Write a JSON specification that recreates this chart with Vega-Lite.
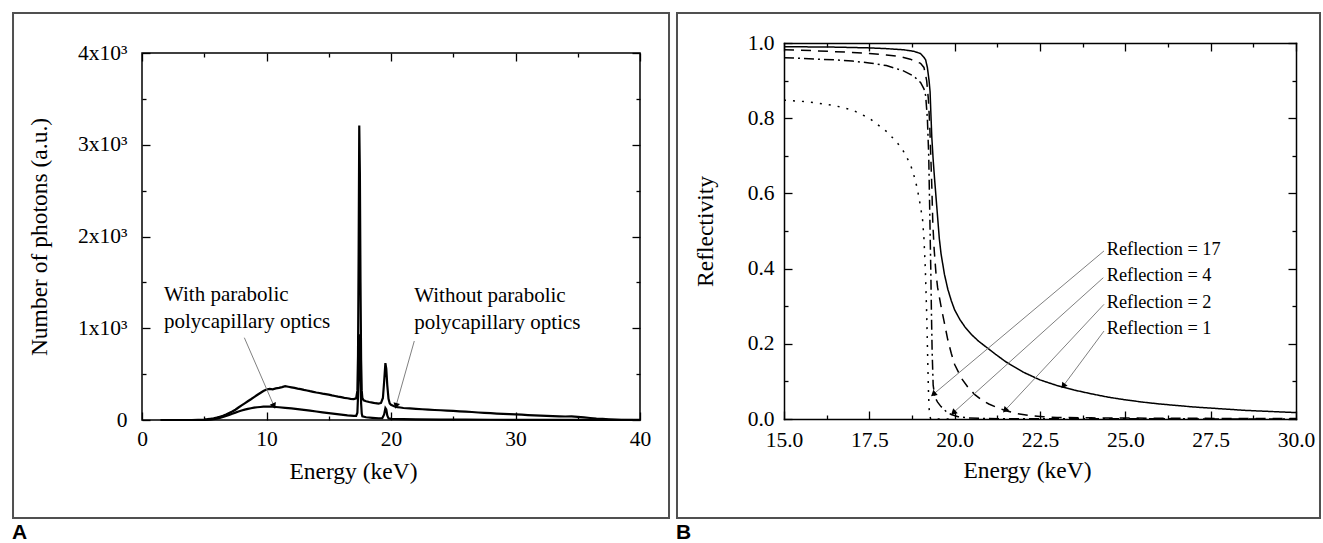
{
  "$schema": "https://vega.github.io/schema/vega-lite/v6.json",
  "padding": {"left": 11, "top": 11, "right": 2, "bottom": 0},
  "autosize": {"type": "pad"},
  "spacing": 4,
  "columns": 2,
  "align": "none",
  "bounds": "full",
  "datasets": {
    "spectra": [
      {"E":1.5,"N":0,"s":"Without"},{"E":3,"N":0,"s":"Without"},{"E":4,"N":0,"s":"Without"},{"E":4.5,"N":2,"s":"Without"},{"E":5,"N":5,"s":"Without"},{"E":5.25,"N":9,"s":"Without"},{"E":5.5,"N":14,"s":"Without"},{"E":5.75,"N":19,"s":"Without"},{"E":6,"N":26,"s":"Without"},{"E":6.25,"N":36,"s":"Without"},{"E":6.5,"N":46,"s":"Without"},{"E":6.75,"N":60,"s":"Without"},{"E":7,"N":76,"s":"Without"},{"E":7.25,"N":92,"s":"Without"},{"E":7.5,"N":112,"s":"Without"},{"E":7.75,"N":136,"s":"Without"},{"E":8,"N":160,"s":"Without"},{"E":8.25,"N":182,"s":"Without"},{"E":8.5,"N":204,"s":"Without"},{"E":8.75,"N":226,"s":"Without"},{"E":9,"N":250,"s":"Without"},{"E":9.25,"N":272,"s":"Without"},{"E":9.5,"N":294,"s":"Without"},{"E":9.75,"N":316,"s":"Without"},{"E":10,"N":332,"s":"Without"},{"E":10.25,"N":340,"s":"Without"},{"E":10.5,"N":334,"s":"Without"},{"E":10.75,"N":344,"s":"Without"},{"E":11,"N":350,"s":"Without"},{"E":11.25,"N":358,"s":"Without"},{"E":11.5,"N":368,"s":"Without"},{"E":11.75,"N":362,"s":"Without"},{"E":12,"N":356,"s":"Without"},{"E":12.25,"N":350,"s":"Without"},{"E":12.5,"N":342,"s":"Without"},{"E":12.75,"N":337,"s":"Without"},{"E":13,"N":328,"s":"Without"},{"E":13.25,"N":322,"s":"Without"},{"E":13.5,"N":314,"s":"Without"},{"E":13.75,"N":307,"s":"Without"},{"E":14,"N":300,"s":"Without"},{"E":14.25,"N":294,"s":"Without"},{"E":14.5,"N":287,"s":"Without"},{"E":14.75,"N":282,"s":"Without"},{"E":15,"N":276,"s":"Without"},{"E":15.25,"N":268,"s":"Without"},{"E":15.5,"N":262,"s":"Without"},{"E":15.75,"N":255,"s":"Without"},{"E":16,"N":249,"s":"Without"},{"E":16.25,"N":242,"s":"Without"},{"E":16.5,"N":237,"s":"Without"},{"E":16.75,"N":231,"s":"Without"},{"E":17,"N":228,"s":"Without"},{"E":17.2,"N":236,"s":"Without"},{"E":17.3,"N":320,"s":"Without"},{"E":17.35,"N":700,"s":"Without"},{"E":17.4,"N":1800,"s":"Without"},{"E":17.45,"N":3210,"s":"Without"},{"E":17.5,"N":2700,"s":"Without"},{"E":17.55,"N":1500,"s":"Without"},{"E":17.6,"N":650,"s":"Without"},{"E":17.65,"N":320,"s":"Without"},{"E":17.7,"N":240,"s":"Without"},{"E":17.8,"N":215,"s":"Without"},{"E":18,"N":205,"s":"Without"},{"E":18.25,"N":196,"s":"Without"},{"E":18.5,"N":190,"s":"Without"},{"E":18.75,"N":183,"s":"Without"},{"E":19,"N":178,"s":"Without"},{"E":19.2,"N":186,"s":"Without"},{"E":19.35,"N":240,"s":"Without"},{"E":19.45,"N":420,"s":"Without"},{"E":19.55,"N":620,"s":"Without"},{"E":19.62,"N":560,"s":"Without"},{"E":19.7,"N":380,"s":"Without"},{"E":19.8,"N":230,"s":"Without"},{"E":19.9,"N":180,"s":"Without"},{"E":20,"N":165,"s":"Without"},{"E":20.25,"N":150,"s":"Without"},{"E":20.5,"N":141,"s":"Without"},{"E":20.75,"N":136,"s":"Without"},{"E":21,"N":131,"s":"Without"},{"E":21.5,"N":126,"s":"Without"},{"E":22,"N":121,"s":"Without"},{"E":22.5,"N":117,"s":"Without"},{"E":23,"N":113,"s":"Without"},{"E":23.5,"N":109,"s":"Without"},{"E":24,"N":106,"s":"Without"},{"E":24.5,"N":102,"s":"Without"},{"E":25,"N":99,"s":"Without"},{"E":25.5,"N":95,"s":"Without"},{"E":26,"N":91,"s":"Without"},{"E":26.5,"N":87,"s":"Without"},{"E":27,"N":82,"s":"Without"},{"E":27.5,"N":78,"s":"Without"},{"E":28,"N":74,"s":"Without"},{"E":28.5,"N":70,"s":"Without"},{"E":29,"N":67,"s":"Without"},{"E":29.5,"N":64,"s":"Without"},{"E":30,"N":62,"s":"Without"},{"E":30.5,"N":58,"s":"Without"},{"E":31,"N":54,"s":"Without"},{"E":31.5,"N":51,"s":"Without"},{"E":32,"N":48,"s":"Without"},{"E":32.5,"N":45,"s":"Without"},{"E":33,"N":42,"s":"Without"},{"E":33.5,"N":40,"s":"Without"},{"E":34,"N":38,"s":"Without"},{"E":34.5,"N":40,"s":"Without"},{"E":35,"N":34,"s":"Without"},{"E":35.5,"N":28,"s":"Without"},{"E":36,"N":22,"s":"Without"},{"E":36.5,"N":16,"s":"Without"},{"E":37,"N":12,"s":"Without"},{"E":37.5,"N":8,"s":"Without"},{"E":38,"N":5,"s":"Without"},{"E":38.5,"N":3,"s":"Without"},{"E":39,"N":2,"s":"Without"},{"E":40,"N":1,"s":"Without"},
      {"E":1.5,"N":0,"s":"With"},{"E":4,"N":0,"s":"With"},{"E":5,"N":1,"s":"With"},{"E":5.5,"N":4,"s":"With"},{"E":6,"N":14,"s":"With"},{"E":6.25,"N":22,"s":"With"},{"E":6.5,"N":32,"s":"With"},{"E":6.75,"N":44,"s":"With"},{"E":7,"N":56,"s":"With"},{"E":7.25,"N":68,"s":"With"},{"E":7.5,"N":80,"s":"With"},{"E":7.75,"N":92,"s":"With"},{"E":8,"N":103,"s":"With"},{"E":8.25,"N":113,"s":"With"},{"E":8.5,"N":121,"s":"With"},{"E":8.75,"N":128,"s":"With"},{"E":9,"N":134,"s":"With"},{"E":9.25,"N":139,"s":"With"},{"E":9.5,"N":142,"s":"With"},{"E":9.75,"N":145,"s":"With"},{"E":10,"N":147,"s":"With"},{"E":10.25,"N":146,"s":"With"},{"E":10.5,"N":145,"s":"With"},{"E":10.75,"N":142,"s":"With"},{"E":11,"N":139,"s":"With"},{"E":11.5,"N":133,"s":"With"},{"E":12,"N":126,"s":"With"},{"E":12.5,"N":118,"s":"With"},{"E":13,"N":110,"s":"With"},{"E":13.5,"N":102,"s":"With"},{"E":14,"N":93,"s":"With"},{"E":14.5,"N":84,"s":"With"},{"E":15,"N":75,"s":"With"},{"E":15.5,"N":66,"s":"With"},{"E":16,"N":58,"s":"With"},{"E":16.5,"N":50,"s":"With"},{"E":17,"N":44,"s":"With"},{"E":17.2,"N":45,"s":"With"},{"E":17.3,"N":80,"s":"With"},{"E":17.35,"N":250,"s":"With"},{"E":17.4,"N":600,"s":"With"},{"E":17.45,"N":935,"s":"With"},{"E":17.5,"N":800,"s":"With"},{"E":17.55,"N":450,"s":"With"},{"E":17.6,"N":180,"s":"With"},{"E":17.65,"N":70,"s":"With"},{"E":17.7,"N":40,"s":"With"},{"E":18,"N":30,"s":"With"},{"E":18.5,"N":24,"s":"With"},{"E":19,"N":19,"s":"With"},{"E":19.3,"N":20,"s":"With"},{"E":19.45,"N":60,"s":"With"},{"E":19.55,"N":130,"s":"With"},{"E":19.62,"N":115,"s":"With"},{"E":19.7,"N":50,"s":"With"},{"E":19.8,"N":18,"s":"With"},{"E":20,"N":12,"s":"With"},{"E":21,"N":9,"s":"With"},{"E":22,"N":7,"s":"With"},{"E":24,"N":5,"s":"With"},{"E":26,"N":4,"s":"With"},{"E":28,"N":3,"s":"With"},{"E":30,"N":2,"s":"With"},{"E":35,"N":1,"s":"With"},{"E":40,"N":0,"s":"With"}
    ],
    "annA": [
      {"E":1.77,"N":1297,"t":"With parabolic"},
      {"E":1.77,"N":1003,"t":"polycapillary optics"},
      {"E":21.87,"N":1290,"t":"Without parabolic"},
      {"E":21.87,"N":996,"t":"polycapillary optics"}
    ],
    "arrA": [
      {"id":"with","E":8.22,"N":897,"E2":10.6,"N2":153},
      {"id":"without","E":21.87,"N":861,"E2":20.4,"N2":153}
    ],
    "refl": [
      {"E":15,"R":0.990,"n":"1"},{"E":15.5,"R":0.9898,"n":"1"},{"E":16,"R":0.9895,"n":"1"},{"E":16.5,"R":0.989,"n":"1"},{"E":17,"R":0.988,"n":"1"},{"E":17.5,"R":0.987,"n":"1"},{"E":18,"R":0.985,"n":"1"},{"E":18.5,"R":0.982,"n":"1"},{"E":18.8,"R":0.978,"n":"1"},{"E":19.0,"R":0.972,"n":"1"},{"E":19.1,"R":0.962,"n":"1"},{"E":19.15,"R":0.955,"n":"1"},{"E":19.2,"R":0.935,"n":"1"},{"E":19.25,"R":0.90,"n":"1"},{"E":19.28,"R":0.87,"n":"1"},{"E":19.3,"R":0.82,"n":"1"},{"E":19.33,"R":0.75,"n":"1"},{"E":19.37,"R":0.69,"n":"1"},{"E":19.41,"R":0.64,"n":"1"},{"E":19.48,"R":0.56,"n":"1"},{"E":19.55,"R":0.48,"n":"1"},{"E":19.6,"R":0.44,"n":"1"},{"E":19.7,"R":0.385,"n":"1"},{"E":19.8,"R":0.345,"n":"1"},{"E":19.9,"R":0.315,"n":"1"},{"E":20.0,"R":0.29,"n":"1"},{"E":20.15,"R":0.265,"n":"1"},{"E":20.3,"R":0.245,"n":"1"},{"E":20.5,"R":0.224,"n":"1"},{"E":20.7,"R":0.207,"n":"1"},{"E":20.9,"R":0.193,"n":"1"},{"E":21.2,"R":0.172,"n":"1"},{"E":21.5,"R":0.152,"n":"1"},{"E":21.8,"R":0.136,"n":"1"},{"E":22.0,"R":0.125,"n":"1"},{"E":22.5,"R":0.104,"n":"1"},{"E":23.0,"R":0.089,"n":"1"},{"E":23.5,"R":0.077,"n":"1"},{"E":24.0,"R":0.067,"n":"1"},{"E":24.5,"R":0.058,"n":"1"},{"E":25.0,"R":0.051,"n":"1"},{"E":25.5,"R":0.045,"n":"1"},{"E":26.0,"R":0.040,"n":"1"},{"E":26.5,"R":0.036,"n":"1"},{"E":27.0,"R":0.032,"n":"1"},{"E":27.5,"R":0.029,"n":"1"},{"E":28.0,"R":0.026,"n":"1"},{"E":28.5,"R":0.023,"n":"1"},{"E":29.0,"R":0.021,"n":"1"},{"E":29.5,"R":0.019,"n":"1"},{"E":30.0,"R":0.017,"n":"1"},
      {"E":15,"R":0.982,"n":"2"},{"E":15.5,"R":0.981,"n":"2"},{"E":16,"R":0.979,"n":"2"},{"E":16.5,"R":0.977,"n":"2"},{"E":17,"R":0.975,"n":"2"},{"E":17.5,"R":0.972,"n":"2"},{"E":18,"R":0.968,"n":"2"},{"E":18.4,"R":0.964,"n":"2"},{"E":18.7,"R":0.957,"n":"2"},{"E":19.0,"R":0.946,"n":"2"},{"E":19.1,"R":0.935,"n":"2"},{"E":19.18,"R":0.90,"n":"2"},{"E":19.23,"R":0.85,"n":"2"},{"E":19.27,"R":0.78,"n":"2"},{"E":19.3,"R":0.70,"n":"2"},{"E":19.33,"R":0.62,"n":"2"},{"E":19.36,"R":0.52,"n":"2"},{"E":19.4,"R":0.45,"n":"2"},{"E":19.45,"R":0.39,"n":"2"},{"E":19.5,"R":0.35,"n":"2"},{"E":19.6,"R":0.30,"n":"2"},{"E":19.7,"R":0.255,"n":"2"},{"E":19.8,"R":0.21,"n":"2"},{"E":19.9,"R":0.175,"n":"2"},{"E":20.0,"R":0.145,"n":"2"},{"E":20.2,"R":0.108,"n":"2"},{"E":20.4,"R":0.083,"n":"2"},{"E":20.6,"R":0.064,"n":"2"},{"E":20.8,"R":0.05,"n":"2"},{"E":21.0,"R":0.04,"n":"2"},{"E":21.2,"R":0.032,"n":"2"},{"E":21.5,"R":0.022,"n":"2"},{"E":21.8,"R":0.015,"n":"2"},{"E":22.2,"R":0.009,"n":"2"},{"E":22.6,"R":0.006,"n":"2"},{"E":23.0,"R":0.004,"n":"2"},{"E":24.0,"R":0.003,"n":"2"},{"E":26.0,"R":0.002,"n":"2"},{"E":30.0,"R":0.001,"n":"2"},
      {"E":15,"R":0.961,"n":"4"},{"E":15.5,"R":0.959,"n":"4"},{"E":16,"R":0.957,"n":"4"},{"E":16.5,"R":0.955,"n":"4"},{"E":17,"R":0.952,"n":"4"},{"E":17.5,"R":0.947,"n":"4"},{"E":18,"R":0.94,"n":"4"},{"E":18.5,"R":0.926,"n":"4"},{"E":18.8,"R":0.912,"n":"4"},{"E":19.0,"R":0.895,"n":"4"},{"E":19.1,"R":0.878,"n":"4"},{"E":19.15,"R":0.86,"n":"4"},{"E":19.2,"R":0.80,"n":"4"},{"E":19.24,"R":0.70,"n":"4"},{"E":19.27,"R":0.55,"n":"4"},{"E":19.3,"R":0.40,"n":"4"},{"E":19.32,"R":0.28,"n":"4"},{"E":19.34,"R":0.18,"n":"4"},{"E":19.37,"R":0.09,"n":"4"},{"E":19.42,"R":0.058,"n":"4"},{"E":19.5,"R":0.045,"n":"4"},{"E":19.6,"R":0.033,"n":"4"},{"E":19.75,"R":0.02,"n":"4"},{"E":19.9,"R":0.012,"n":"4"},{"E":20.1,"R":0.006,"n":"4"},{"E":20.4,"R":0.003,"n":"4"},{"E":21.0,"R":0.001,"n":"4"},{"E":30.0,"R":0.0,"n":"4"},
      {"E":15,"R":0.848,"n":"17"},{"E":15.5,"R":0.845,"n":"17"},{"E":16,"R":0.840,"n":"17"},{"E":16.5,"R":0.833,"n":"17"},{"E":17,"R":0.822,"n":"17"},{"E":17.5,"R":0.80,"n":"17"},{"E":18,"R":0.765,"n":"17"},{"E":18.3,"R":0.737,"n":"17"},{"E":18.5,"R":0.712,"n":"17"},{"E":18.7,"R":0.678,"n":"17"},{"E":18.8,"R":0.65,"n":"17"},{"E":18.9,"R":0.615,"n":"17"},{"E":19.0,"R":0.565,"n":"17"},{"E":19.06,"R":0.53,"n":"17"},{"E":19.1,"R":0.48,"n":"17"},{"E":19.14,"R":0.40,"n":"17"},{"E":19.18,"R":0.28,"n":"17"},{"E":19.21,"R":0.16,"n":"17"},{"E":19.23,"R":0.08,"n":"17"},{"E":19.25,"R":0.03,"n":"17"},{"E":19.27,"R":0.008,"n":"17"},{"E":19.3,"R":0.0,"n":"17"},{"E":20.0,"R":0.0,"n":"17"}
    ],
    "labB": [
      {"E":24.455,"R":0.4375,"t":"Reflection = 17"},
      {"E":24.455,"R":0.367,"t":"Reflection = 4"},
      {"E":24.455,"R":0.296,"t":"Reflection = 2"},
      {"E":24.455,"R":0.2253,"t":"Reflection = 1"}
    ],
    "arrB": [
      {"id":"r17","E":24.375,"R":0.447,"E2":19.374,"R2":0.0657},
      {"id":"r4","E":24.355,"R":0.3758,"E2":19.96,"R2":0.0168},
      {"id":"r2","E":24.375,"R":0.305,"E2":21.475,"R2":0.0231},
      {"id":"r1","E":24.375,"R":0.234,"E2":23.18,"R2":0.0878}
    ]
  },
  "concat": [
    {
      "width": 498,
      "height": 367,
      "title": {"text": "A"},
      "layer": [
        {
          "data": {"name": "spectra"},
          "mark": {"type": "line", "color": "black", "strokeWidth": 2.2},
          "encoding": {
            "x": {"field": "E", "type": "quantitative",
              "scale": {"domain": [0, 40], "nice": false, "zero": false},
              "axis": {"orient": "bottom", "values": [0,5,10,15,20,25,30,35,40],
                "labelExpr": "datum.value % 10 == 0 ? format(datum.value, 'd') : ''",
                "tickSize": {"condition": {"test": "datum.value % 10 == 0", "value": -8}, "value": -4},
                "labelPadding": 16, "title": "Energy (keV)", "titlePadding": 6, "titleX": 211}},
            "y": {"field": "N", "type": "quantitative",
              "scale": {"domain": [0, 4000], "nice": false, "zero": false},
              "axis": {"orient": "left", "values": [0,500,1000,1500,2000,2500,3000,3500,4000],
                "labelExpr": "datum.value == 0 ? '0' : (datum.value % 1000 == 0 ? format(datum.value/1000, 'd') + 'x10³' : '')",
                "tickSize": {"condition": {"test": "datum.value % 1000 == 0", "value": -8}, "value": -4},
                "labelPadding": 23, "title": "Number of photons (a.u.)", "titlePadding": 26}},
            "detail": {"field": "s", "type": "nominal"}
          }
        },
        {
          "data": {"values": [{}]},
          "mark": {"type": "rect", "filled": false, "color": "#505050", "strokeWidth": 2},
          "encoding": {
            "x": {"datum": -10.36, "type": "quantitative",
              "scale": {"domain": [0, 40], "nice": false, "zero": false},
              "axis": {"orient": "top", "values": [0,5,10,15,20,25,30,35,40], "labels": false, "title": null,
                "tickSize": {"condition": {"test": "datum.value % 10 == 0", "value": -8}, "value": -4}}},
            "x2": {"datum": 42.33},
            "y": {"datum": 4436, "type": "quantitative",
              "scale": {"domain": [0, 4000], "nice": false, "zero": false},
              "axis": {"orient": "right", "values": [0,500,1000,1500,2000,2500,3000,3500,4000], "labels": false, "title": null,
                "tickSize": {"condition": {"test": "datum.value % 1000 == 0", "value": -8}, "value": -4}}},
            "y2": {"datum": -1068}
          }
        },
        {
          "data": {"name": "arrA"},
          "mark": {"type": "rule", "color": "#808080", "strokeWidth": 1},
          "encoding": {
            "x": {"field": "E", "type": "quantitative", "axis": null},
            "y": {"field": "N", "type": "quantitative", "axis": null},
            "x2": {"field": "E2"},
            "y2": {"field": "N2"}
          }
        },
        {
          "data": {"name": "arrA"},
          "transform": [{"filter": "datum.id == 'with'"}],
          "mark": {"type": "point", "shape": "triangle-down", "filled": true, "color": "black", "opacity": 1, "size": 45, "angle": 336.5},
          "encoding": {
            "x": {"field": "E2", "type": "quantitative", "axis": null},
            "y": {"field": "N2", "type": "quantitative", "axis": null}
          }
        },
        {
          "data": {"name": "arrA"},
          "transform": [{"filter": "datum.id == 'without'"}],
          "mark": {"type": "point", "shape": "triangle-down", "filled": true, "color": "black", "opacity": 1, "size": 45, "angle": 15.7},
          "encoding": {
            "x": {"field": "E2", "type": "quantitative", "axis": null},
            "y": {"field": "N2", "type": "quantitative", "axis": null}
          }
        },
        {
          "data": {"name": "annA"},
          "mark": {"type": "text", "align": "left", "baseline": "alphabetic", "font": "Liberation Serif", "fontSize": 21, "color": "black"},
          "encoding": {
            "x": {"field": "E", "type": "quantitative", "axis": null},
            "y": {"field": "N", "type": "quantitative", "axis": null},
            "text": {"field": "t"}
          }
        }
      ],
      "resolve": {"axis": {"x": "independent", "y": "independent"}}
    },
    {
      "width": 512,
      "height": 366,
      "view": {"stroke": null},
      "title": {"text": "B"},
      "layer": [
        {
          "data": {"name": "refl"},
          "mark": {"type": "line", "color": "black", "strokeWidth": 1.5},
          "encoding": {
            "x": {"field": "E", "type": "quantitative",
              "scale": {"domain": [15, 30], "nice": false, "zero": false},
              "axis": {"orient": "bottom", "values": [15,16.25,17.5,18.75,20,21.25,22.5,23.75,25,26.25,27.5,28.75,30],
                "labelExpr": "(datum.value*4) % 10 == 0 ? format(datum.value, '.1f') : ''",
                "tickSize": {"condition": {"test": "(datum.value*4) % 10 == 0", "value": -8}, "value": -4},
                "domain": true, "domainColor": "black", "domainWidth": 1.5, "domainCap": "square",
                "labelPadding": 18, "title": "Energy (keV)", "titlePadding": 4, "titleX": 243}},
            "y": {"field": "R", "type": "quantitative",
              "scale": {"domain": [0, 1], "range": [366, -10], "nice": false, "zero": false},
              "axis": {"orient": "left", "values": [0,0.1,0.2,0.3,0.4,0.5,0.6,0.7,0.8,0.9,1.0],
                "labelExpr": "round(datum.value*10) % 2 == 0 ? format(datum.value, '.1f') : ''",
                "tickSize": {"condition": {"test": "round(datum.value*10) % 2 == 0", "value": -8}, "value": -4},
                "domain": true, "domainColor": "black", "domainWidth": 1.5, "domainCap": "square",
                "labelPadding": 18, "title": "Reflectivity", "titlePadding": 30}},
            "strokeDash": {"field": "n", "type": "nominal",
              "scale": {"domain": ["1","2","4","17"], "range": [[1,0],[10,7],[10,4,2,4],[2,7]]},
              "legend": null}
          }
        },
        {
          "data": {"values": [{}]},
          "mark": {"type": "rect", "filled": false, "color": "#505050", "strokeWidth": 2},
          "encoding": {
            "x": {"datum": 11.865, "type": "quantitative",
              "scale": {"domain": [15, 30], "nice": false, "zero": false},
              "axis": {"orient": "top", "offset": 10, "values": [15,16.25,17.5,18.75,20,21.25,22.5,23.75,25,26.25,27.5,28.75,30], "labels": false, "title": null,
                "domain": true, "domainColor": "black", "domainWidth": 1.5, "domainCap": "square",
                "tickSize": {"condition": {"test": "(datum.value*4) % 10 == 0", "value": -8}, "value": -4}}},
            "x2": {"datum": 30.703},
            "y": {"datum": 1.0798, "type": "quantitative",
              "scale": {"domain": [0, 1], "range": [366, -10], "nice": false, "zero": false},
              "axis": {"orient": "right", "values": [0,0.1,0.2,0.3,0.4,0.5,0.6,0.7,0.8,0.9,1.0], "labels": false, "title": null,
                "domain": true, "domainColor": "black", "domainWidth": 1.5, "domainCap": "square",
                "tickSize": {"condition": {"test": "round(datum.value*10) % 2 == 0", "value": -8}, "value": -4}}},
            "y2": {"datum": -0.2633}
          }
        },
        {
          "data": {"name": "arrB"},
          "mark": {"type": "rule", "color": "#808080", "strokeWidth": 1},
          "encoding": {
            "x": {"field": "E", "type": "quantitative", "axis": null},
            "y": {"field": "R", "type": "quantitative", "axis": null},
            "x2": {"field": "E2"},
            "y2": {"field": "R2"}
          }
        },
        {
          "data": {"name": "arrB"},
          "transform": [{"filter": "datum.id == 'r17'"}],
          "mark": {"type": "point", "shape": "triangle-down", "filled": true, "color": "black", "opacity": 1, "size": 45, "angle": 49.9},
          "encoding": {
            "x": {"field": "E2", "type": "quantitative", "axis": null},
            "y": {"field": "R2", "type": "quantitative", "axis": null}
          }
        },
        {
          "data": {"name": "arrB"},
          "transform": [{"filter": "datum.id == 'r4'"}],
          "mark": {"type": "point", "shape": "triangle-down", "filled": true, "color": "black", "opacity": 1, "size": 45, "angle": 48},
          "encoding": {
            "x": {"field": "E2", "type": "quantitative", "axis": null},
            "y": {"field": "R2", "type": "quantitative", "axis": null}
          }
        },
        {
          "data": {"name": "arrB"},
          "transform": [{"filter": "datum.id == 'r2'"}],
          "mark": {"type": "point", "shape": "triangle-down", "filled": true, "color": "black", "opacity": 1, "size": 45, "angle": 43},
          "encoding": {
            "x": {"field": "E2", "type": "quantitative", "axis": null},
            "y": {"field": "R2", "type": "quantitative", "axis": null}
          }
        },
        {
          "data": {"name": "arrB"},
          "transform": [{"filter": "datum.id == 'r1'"}],
          "mark": {"type": "point", "shape": "triangle-down", "filled": true, "color": "black", "opacity": 1, "size": 45, "angle": 36.5},
          "encoding": {
            "x": {"field": "E2", "type": "quantitative", "axis": null},
            "y": {"field": "R2", "type": "quantitative", "axis": null}
          }
        },
        {
          "data": {"name": "labB"},
          "mark": {"type": "text", "align": "left", "baseline": "alphabetic", "font": "Liberation Serif", "fontSize": 18.3, "color": "black"},
          "encoding": {
            "x": {"field": "E", "type": "quantitative", "axis": null},
            "y": {"field": "R", "type": "quantitative", "axis": null},
            "text": {"field": "t"}
          }
        }
      ],
      "resolve": {"axis": {"x": "independent", "y": "independent"}}
    }
  ],
  "config": {
    "background": "white",
    "view": {"stroke": "black", "strokeWidth": 1.5},
    "axis": {
      "labelFont": "Liberation Serif", "titleFont": "Liberation Serif",
      "labelFontSize": 21.5, "titleFontSize": 23.5, "titleFontWeight": "normal",
      "labelColor": "black", "titleColor": "black", "tickColor": "black", "tickWidth": 1.3,
      "domain": false, "grid": false, "labelOverlap": false, "labelFlush": false, "labelBound": false
    },
    "title": {"orient": "bottom", "anchor": "start", "frame": "bounds", "font": "Liberation Sans", "fontSize": 21, "fontWeight": "bold", "color": "black", "offset": 3}
  }
}
